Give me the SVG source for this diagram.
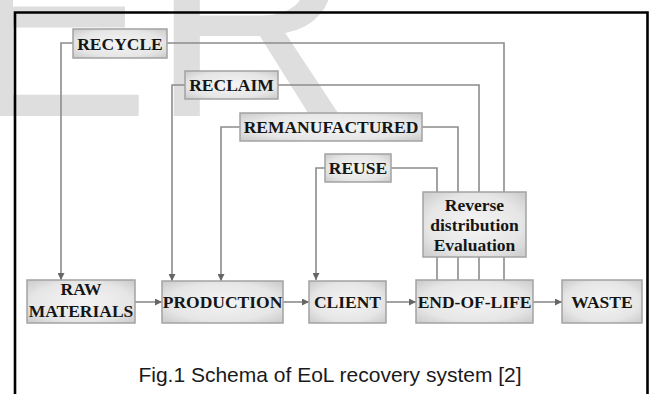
<svg xmlns="http://www.w3.org/2000/svg" width="652" height="394" viewBox="0 0 652 394">
<defs>
  <radialGradient id="boxfill" cx="50%" cy="50%" r="65%">
    <stop offset="0%" stop-color="#f4f4f4"/>
    <stop offset="70%" stop-color="#e6e6e6"/>
    <stop offset="100%" stop-color="#cfcfcf"/>
  </radialGradient>
  <marker id="arrow" viewBox="0 0 10 10" refX="10" refY="5" markerWidth="7" markerHeight="7" markerUnits="userSpaceOnUse" orient="auto">
    <path d="M0,0 L10,5 L0,10 z" fill="#666"/>
  </marker>
  <style>
    .box { fill: url(#boxfill); stroke: #a3a3a3; stroke-width: 1.5; }
    .lbl { font-family: "Liberation Serif", "Times New Roman", serif; font-weight: bold; font-size: 17.5px; fill: #151515; text-anchor: middle; }
    .conn { fill: none; stroke: #8c8c8c; stroke-width: 1.6; }
    .arr { fill: none; stroke: #8c8c8c; stroke-width: 1.6; marker-end: url(#arrow); }
    .cap { font-family: "Liberation Sans", Arial, sans-serif; font-size: 21px; fill: #1a1a1a; text-anchor: middle; }
    .wm { font-family: "Liberation Sans", Arial, sans-serif; font-size: 280px; fill: #dedede; }
  </style>
</defs>
<rect x="0" y="0" width="652" height="394" fill="#ffffff"/>
<text class="wm" x="-36" y="116">ER</text>
<path d="M15,394 V12.5 H647.5 V394" fill="none" stroke="#000" stroke-width="2.6"/>

<g id="connectors">
  <path class="arr" d="M73,43 H61 V280"/>
  <path class="conn" d="M167,43 H504 V192"/>
  <path class="arr" d="M185,85 H172 V281"/>
  <path class="conn" d="M278,85 H479 V192"/>
  <path class="arr" d="M240,127 H221 V281"/>
  <path class="conn" d="M422,127 H458 V192"/>
  <path class="arr" d="M325,168 H316 V280"/>
  <path class="conn" d="M391,168 H437 V192"/>
  <path class="conn" d="M437,257 V280 M458,257 V280 M479,257 V280 M504,257 V280"/>
  <path class="arr" d="M135,302 H162"/>
  <path class="arr" d="M283,302 H309"/>
  <path class="arr" d="M386,302 H416"/>
  <path class="arr" d="M533,302 H562"/>
</g>

<g id="recycle">
  <rect class="box" x="73" y="29" width="94" height="29"/>
  <text class="lbl" x="120" y="49.5">RECYCLE</text>
</g>
<g id="reclaim">
  <rect class="box" x="185" y="71" width="93" height="28"/>
  <text class="lbl" x="231.5" y="91">RECLAIM</text>
</g>
<g id="remanufactured">
  <rect class="box" x="240" y="113" width="182" height="28"/>
  <text class="lbl" x="331" y="133">REMANUFACTURED</text>
</g>
<g id="reuse">
  <rect class="box" x="325" y="154" width="66" height="28"/>
  <text class="lbl" x="358" y="174">REUSE</text>
</g>
<g id="reverse">
  <rect class="box" x="423" y="192" width="103" height="65"/>
  <text class="lbl" x="474.5" y="211">Reverse</text>
  <text class="lbl" x="474.5" y="231">distribution</text>
  <text class="lbl" x="474.5" y="250.5">Evaluation</text>
</g>
<g id="raw-materials">
  <rect class="box" x="27" y="280" width="108" height="43"/>
  <text class="lbl" x="81" y="295">RAW</text>
  <text class="lbl" x="81" y="317">MATERIALS</text>
</g>
<g id="production">
  <rect class="box" x="162" y="281" width="121" height="42"/>
  <text class="lbl" x="222.5" y="308">PRODUCTION</text>
</g>
<g id="client">
  <rect class="box" x="309" y="281" width="77" height="42"/>
  <text class="lbl" x="347.5" y="308">CLIENT</text>
</g>
<g id="end-of-life">
  <rect class="box" x="416" y="280" width="117" height="43"/>
  <text class="lbl" x="474.5" y="308">END-OF-LIFE</text>
</g>
<g id="waste">
  <rect class="box" x="562" y="280" width="80" height="43"/>
  <text class="lbl" x="602" y="308">WASTE</text>
</g>

<text class="cap" x="330" y="382">Fig.1 Schema of EoL recovery system [2]</text>
</svg>
